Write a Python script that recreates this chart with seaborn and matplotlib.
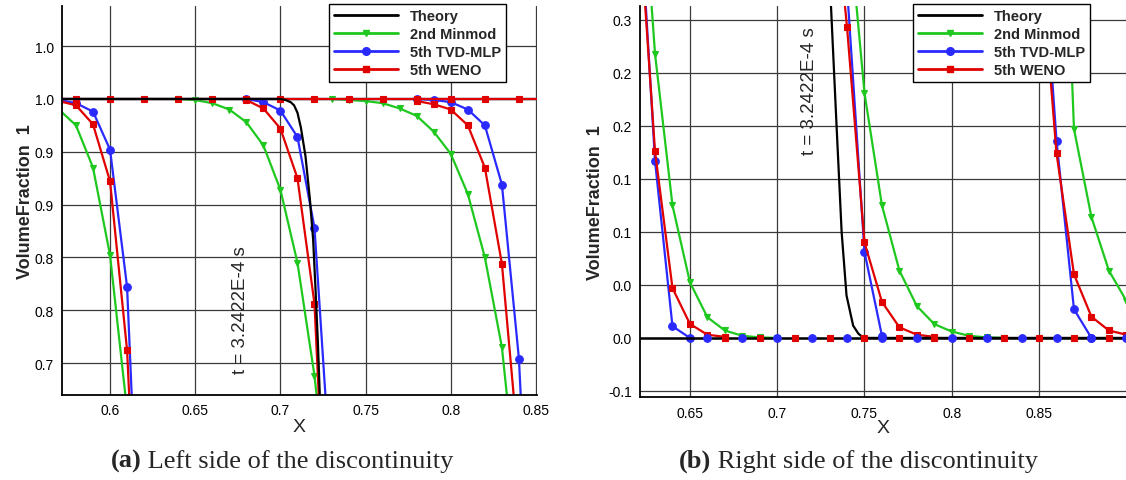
import numpy as np
import matplotlib
matplotlib.use("Agg")
import matplotlib.pyplot as plt
from matplotlib.lines import Line2D
from matplotlib.ticker import MultipleLocator
import seaborn as sns

nan = np.nan

# ---------------- data ----------------
METHODS = ["Theory", "2nd Minmod", "5th TVD-MLP", "5th WENO"]
COLORS = ["#000000", "#1ec81e", "#2a2aff", "#e00000"]
MARKERS = ["", "v", "o", "s"]
MSIZES = [0, 4.0, 5.5, 5.0]

# exact (theory) profile
THEORY_X = [0.56, 0.700, 0.703, 0.706, 0.708, 0.710, 0.712, 0.7147, 0.7173, 0.7192,
            0.7206, 0.722, 0.7231, 0.7265, 0.7308, 0.734, 0.7369, 0.7397, 0.7435,
            0.7465, 0.7483, 0.750, 0.91]
THEORY_Y = [1.0, 1.0, 0.999, 0.997, 0.994, 0.987, 0.973, 0.946, 0.905, 0.867,
            0.82, 0.769, 0.72, 0.52, 0.313, 0.20, 0.10, 0.04, 0.0116,
            0.004, 0.0016, 0.0, 0.0]

# front A (leftmost)
A_X = [0.57, 0.58, 0.59, 0.60, 0.61, 0.62, 0.63, 0.64, 0.65, 0.66, 0.67, 0.68, 0.69, 0.70]
A_MINMOD = [0.990, 0.975, 0.935, 0.852, 0.705, 0.50, 0.268, 0.125, 0.0525, 0.0195, 0.007, 0.002, 0.0005, 0.0]
A_MLP = [0.999, 0.996, 0.988, 0.952, 0.822, 0.444, 0.167, 0.011, 0.0, nan, nan, nan, nan, nan]
A_WENO = [0.998, 0.994, 0.976, 0.922, 0.762, 0.42, 0.176, 0.047, 0.0132, 0.003, 0.001, nan, nan, nan]

# front B (middle, t = 3.2422E-4 s)
B_X = [0.64, 0.65, 0.66, 0.67, 0.68, 0.69, 0.70, 0.71, 0.72, 0.73,
       0.74, 0.75, 0.76, 0.77, 0.78, 0.79, 0.80, 0.81, 0.82, 0.83]
B_MINMOD = [1.0, 0.999, 0.996, 0.990, 0.978, 0.956, 0.914, 0.845, 0.738, 0.59,
            0.41, 0.231, 0.125, 0.0635, 0.030, 0.013, 0.006, 0.002, 0.0005, 0.0]
B_MLP = [nan, nan, nan, nan, 1.0, 0.997, 0.989, 0.964, 0.878, 0.631,
         0.33, 0.081, 0.002, nan, nan, nan, nan, nan, nan, nan]
B_WENO = [nan, nan, nan, nan, 0.999, 0.991, 0.972, 0.925, 0.806, 0.46,
          0.293, 0.09, 0.034, 0.010, 0.003, 0.001, nan, nan, nan, nan]

# front C (rightmost)
C_X = [0.73, 0.74, 0.75, 0.76, 0.77, 0.78, 0.79, 0.80, 0.81, 0.82,
       0.83, 0.84, 0.85, 0.86, 0.87, 0.88, 0.89, 0.90]
C_MINMOD_LEFT = [1.0, 0.999, 0.998, 0.996, 0.991, 0.984, 0.969, 0.948, 0.910, 0.850,
                 0.765, 0.61, 0.45, 0.30, nan, nan, nan, nan]
C_MINMOD_RIGHT = [nan, nan, nan, nan, nan, nan, nan, nan, nan, nan,
                  nan, nan, 0.90, 0.62, 0.197, 0.114, 0.0635, 0.035]
C_MLP = [nan, nan, nan, nan, nan, 1.0, 0.999, 0.997, 0.99, 0.975,
         0.919, 0.754, 0.42, 0.186, 0.027, 0.0, nan, nan]
C_WENO = [nan, nan, nan, nan, nan, 0.998, 0.995, 0.99, 0.975, 0.935,
          0.844, 0.664, 0.38, 0.174, 0.060, 0.020, 0.007, 0.003]

# undisturbed states
BASE_LEFT_X = [0.56, 0.58, 0.60, 0.62, 0.64, 0.66, 0.68, 0.70, 0.72, 0.74, 0.76, 0.78, 0.80, 0.82, 0.84, 0.86]
BASE_LEFT_Y = [1.0] * 16
BASE_RIGHT_MLP_X = [0.66, 0.68, 0.70, 0.72, 0.74, 0.76, 0.78, 0.80, 0.82, 0.84, 0.86, 0.88, 0.90]
BASE_RIGHT_MLP_Y = [0.0] * 13
BASE_RIGHT_WENO_X = [0.67, 0.69, 0.71, 0.73, 0.75, 0.77, 0.79, 0.81, 0.83, 0.85, 0.87, 0.89]
BASE_RIGHT_WENO_Y = [0.0] * 12

# axes ticks
LEFT_XTICKS = [0.6, 0.65, 0.7, 0.75, 0.8, 0.85]
LEFT_XTICKLABELS = ["0.6", "0.65", "0.7", "0.75", "0.8", "0.85"]
LEFT_YTICKS = [0.75, 0.80, 0.85, 0.90, 0.95, 1.00, 1.05]
LEFT_YTICKLABELS = ["0.7", "0.8", "0.8", "0.9", "0.9", "1.0", "1.0"]
RIGHT_XTICKS = [0.65, 0.7, 0.75, 0.8, 0.85]
RIGHT_XTICKLABELS = ["0.65", "0.7", "0.75", "0.8", "0.85"]
RIGHT_YTICKS = [-0.05, 0.0, 0.05, 0.10, 0.15, 0.20, 0.25, 0.30]
RIGHT_YTICKLABELS = ["-0.1", "0.0", "0.0", "0.1", "0.1", "0.2", "0.2", "0.3"]

TIME_LABEL = "t = 3.2422E-4 s"
YLABEL = "VolumeFraction  1"
XLABEL = "X"
CAPTIONS = [("(a)", " Left side of the discontinuity"), ("(b)", " Right side of the discontinuity")]

# ---------------- style ----------------
sns.set_style("white")
plt.rcParams["font.family"] = ["Liberation Sans", "DejaVu Sans"]

W, H = 1126, 481
fig = plt.figure(figsize=(W / 100, H / 100), dpi=100)

ax_l = fig.add_axes([62 / W, 1 - 395.7 / H, (537 - 62) / W, (395.7 - 7) / H])
ax_r = fig.add_axes([640 / W, 1 - 398.3 / H, (1126 - 640) / W, (398.3 - 7) / H])

ZORD = [2.6, 2.2, 2.3, 2.4]


def curve(ax, x, y, k, markers=True, ls="-", z=None):
    sns.lineplot(x=x, y=y, ax=ax, color=COLORS[k], linewidth=1.6, linestyle=ls,
                 marker=(MARKERS[k] if markers and MARKERS[k] else None),
                 markersize=MSIZES[k], markeredgecolor=COLORS[k], markeredgewidth=0.8,
                 estimator=None, sort=False, legend=False,
                 zorder=(ZORD[k] if z is None else z))


# ---- left panel ----
curve(ax_l, BASE_LEFT_X, BASE_LEFT_Y, 1, markers=False)
curve(ax_l, BASE_LEFT_X, BASE_LEFT_Y, 2, markers=False)
curve(ax_l, BASE_LEFT_X, BASE_LEFT_Y, 3)
curve(ax_l, THEORY_X, THEORY_Y, 0)
for xs, ys, k in [(A_X, A_MINMOD, 1), (A_X, A_MLP, 2), (A_X, A_WENO, 3),
                  (B_X, B_MINMOD, 1), (B_X, B_MLP, 2), (B_X, B_WENO, 3),
                  (C_X, C_MINMOD_LEFT, 1), (C_X, C_MLP, 2), (C_X, C_WENO, 3)]:
    curve(ax_l, xs, ys, k)

# ---- right panel ----
ax_r.axhline(0.0, color="black", lw=1.8, zorder=2.5)
curve(ax_r, THEORY_X, THEORY_Y, 0)
for xs, ys, k in [(A_X, A_MINMOD, 1), (A_X, A_MLP, 2), (A_X, A_WENO, 3),
                  (B_X, B_MINMOD, 1), (B_X, B_MLP, 2), (B_X, B_WENO, 3),
                  (C_X, C_MINMOD_RIGHT, 1), (C_X, C_MLP, 2), (C_X, C_WENO, 3)]:
    curve(ax_r, xs, ys, k)
curve(ax_r, BASE_RIGHT_MLP_X, BASE_RIGHT_MLP_Y, 2, ls="none", z=2.8)
curve(ax_r, BASE_RIGHT_WENO_X, BASE_RIGHT_WENO_Y, 3, ls="none", z=2.8)

# ---- axes cosmetics ----
setup = [
    (ax_l, (0.5718, 0.8506), (0.72, 1.088), LEFT_XTICKS, LEFT_XTICKLABELS,
     LEFT_YTICKS, LEFT_YTICKLABELS, -0.059, -0.060),
    (ax_r, (0.6214, 0.8998), (-0.056, 0.313), RIGHT_XTICKS, RIGHT_XTICKLABELS,
     RIGHT_YTICKS, RIGHT_YTICKLABELS, -0.074, -0.056),
]
for ax, xl, yl, xt, xtl, yt, ytl, ylx, xly in setup:
    ax.set_xlim(*xl)
    ax.set_ylim(*yl)
    ax.set_xticks(xt)
    ax.set_xticklabels(xtl)
    ax.set_yticks(yt)
    ax.set_yticklabels(ytl)
    ax.xaxis.set_minor_locator(MultipleLocator(0.01))
    ax.yaxis.set_minor_locator(MultipleLocator(0.01))
    ax.tick_params(which="both", direction="in", colors="black", width=1.0,
                   labelsize=10, pad=6)
    ax.tick_params(which="major", length=9)
    ax.tick_params(which="minor", length=5)
    ax.grid(True, which="major", color="#3a3a3a", lw=0.9)
    ax.set_axisbelow(True)
    for s in ["top", "right"]:
        ax.spines[s].set_visible(False)
    for s in ["left", "bottom"]:
        ax.spines[s].set_color("black")
        ax.spines[s].set_linewidth(1.3)
    ax.set_ylabel(YLABEL, fontsize=13, fontweight="bold")
    ax.yaxis.set_label_coords(ylx, 0.5)
    ax.set_xlabel(XLABEL, fontsize=14)
    ax.xaxis.set_label_coords(0.5, xly)
    ax.set_facecolor("white")

ax_l.text(0.6765, 0.801, TIME_LABEL, rotation=90, ha="center", va="center", fontsize=13.5, zorder=5)
ax_r.text(0.7187, 0.234, TIME_LABEL, rotation=90, ha="center", va="center", fontsize=13.5, zorder=5)

# ---- legends ----
handles = [Line2D([0], [0], color=COLORS[k], lw=2.0,
                  marker=(MARKERS[k] if MARKERS[k] else None),
                  markersize=MSIZES[k], markeredgecolor=COLORS[k]) for k in range(4)]
for x0 in (329, 913):
    leg = fig.legend(handles, METHODS, loc="upper left",
                     bbox_to_anchor=(x0 / W, 1 - 5 / H), bbox_transform=fig.transFigure,
                     borderaxespad=0, frameon=True, fancybox=False, framealpha=1,
                     edgecolor="black", handlelength=4.4, handletextpad=0.8,
                     labelspacing=0.28, borderpad=0.35, numpoints=1,
                     prop={"family": "Liberation Sans", "weight": "bold", "size": 10.5})
    leg.get_frame().set_linewidth(1.0)
    leg.set_zorder(10)

# ---- captions ----
fig.canvas.draw()
renderer = fig.canvas.get_renderer()
for (bold, rest), cx in zip(CAPTIONS, (282, 858)):
    t1 = fig.text(0, 0, bold, family="Liberation Serif", fontweight="bold", fontsize=19, va="baseline")
    t2 = fig.text(0, 0, rest, family="Liberation Serif", fontsize=19, va="baseline")
    w1 = t1.get_window_extent(renderer).width
    w2 = t2.get_window_extent(renderer).width
    x_start = cx - (w1 + w2) / 2
    yb = 1 - 468 / H
    t1.set_position((x_start / W, yb))
    t2.set_position(((x_start + w1) / W, yb))

fig.savefig("out.png", dpi=100, facecolor="white")
